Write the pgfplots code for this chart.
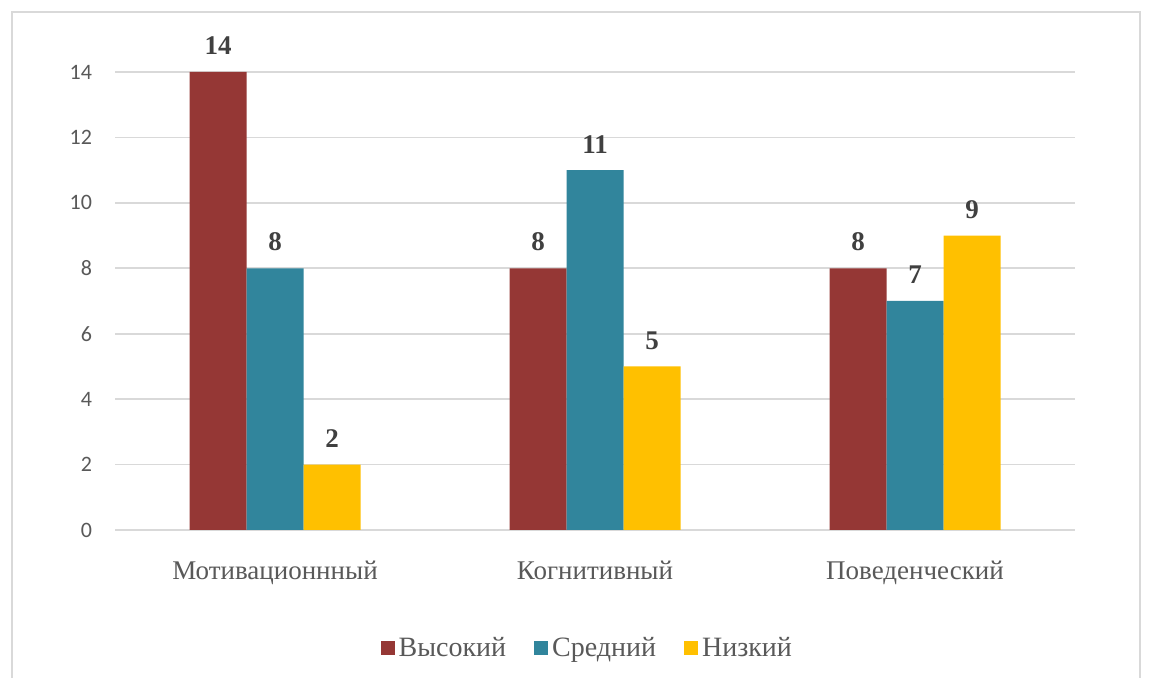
\documentclass[border=0pt]{standalone}
\usepackage{fontspec}
\setmainfont{Liberation Serif}
\newfontfamily\tickfont{Carlito}
\usepackage{pgfplots}
\pgfplotsset{compat=1.18}
\definecolor{cRed}{HTML}{953735}
\definecolor{cTeal}{HTML}{31859C}
\definecolor{cYel}{HTML}{FFC000}
\definecolor{cGrid}{HTML}{D9D9D9}
\definecolor{cTxt}{HTML}{595959}
\begin{document}
\begin{tikzpicture}
\fill[white] (0pt,0pt) rectangle (574.5pt,339pt);
\draw[cGrid, line width=0.7pt] (6pt,0pt) -- (6pt,333pt) -- (570pt,333pt) -- (570pt,0pt);
\begin{axis}[
  at={(57.5pt,74pt)}, anchor=south west,
  scale only axis, width=480pt, height=229pt,
  ybar=0pt, bar width=28.5pt,
  xmin=-0.5, xmax=2.5, ymin=0, ymax=14,
  axis lines=none,
  hide x axis=false, hide y axis=false,
  x axis line style={draw=none}, y axis line style={draw=none},
  ymajorgrids, grid style={cGrid, line width=0.8pt},
  ytick={0,2,...,14},
  xtick={0,1,2},
  xticklabels={Мотивационнный, Когнитивный, Поведенческий},
  major tick length=0pt,
  xticklabel style={font=\fontsize{13.5}{15}\selectfont, text=cTxt, yshift=-12pt},
  yticklabel style={font=\fontsize{11}{13}\tickfont, text=cTxt, xshift=-8pt},
  /pgf/number format/assume math mode=true,
  clip=false,
  nodes near coords,
  every node near coord/.append style={font=\fontsize{13.5}{15}\selectfont\bfseries, text=black!75, yshift=5pt},
  legend style={at={(0.493,-0.258)}, anchor=center, draw=none, legend columns=3,
    font=\fontsize{14}{16}\selectfont, text=cTxt,
    /tikz/every even column/.append style={column sep=12pt}},
  legend image code/.code={\fill[#1] (0pt,-3.5pt) rectangle (7pt,3.5pt);},
]
\addplot[fill=cRed, draw=none] coordinates {(0,14) (1,8) (2,8)};
\addplot[fill=cTeal, draw=none] coordinates {(0,8) (1,11) (2,7)};
\addplot[fill=cYel, draw=none] coordinates {(0,2) (1,5) (2,9)};
\legend{Высокий, Средний, Низкий}
\end{axis}
\end{tikzpicture}
\end{document}
